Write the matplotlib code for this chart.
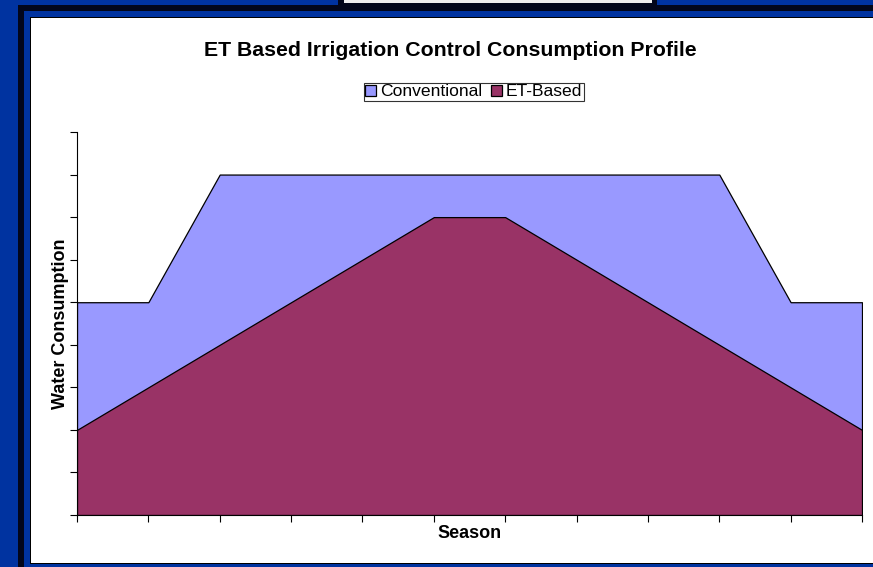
import matplotlib.pyplot as plt
from matplotlib.patches import Rectangle

# Season points (12 periods) and consumption values
periods = list(range(12))
conventional = [5, 5, 8, 8, 8, 8, 8, 8, 8, 8, 5, 5]
et_based = [2, 3, 4, 5, 6, 7, 7, 6, 5, 4, 3, 2]

W, H = 873, 567
navy = '#0033A0'


def px_rect(fig, x0, y0, x1, y1, **kw):
    # rectangle given in pixel coords (origin top-left)
    fig.patches.append(Rectangle((x0 / W, 1 - y1 / H), (x1 - x0) / W, (y1 - y0) / H,
                                 transform=fig.transFigure, figure=fig, zorder=-5, **kw))


plt.rcParams['font.family'] = ['Liberation Sans', 'DejaVu Sans']

fig = plt.figure(figsize=(W / 100, H / 100), dpi=100, facecolor=navy)

# slide frame
px_rect(fig, 18, 5, 880, 580, facecolor='#02061a', edgecolor='none')
px_rect(fig, 24, 11, 880, 580, facecolor=navy, edgecolor='none')
px_rect(fig, 30, 17, 880, 564, facecolor='black', edgecolor='none')
px_rect(fig, 31, 18, 880, 563, facecolor='white', edgecolor='none')
# box at top
px_rect(fig, 338, -5, 657, 11, facecolor='#02061a', edgecolor='none')
px_rect(fig, 344, -5, 652, 3, facecolor='#eeeeee', edgecolor='none')

ax = fig.add_axes([77 / W, 1 - 515 / H, (862 - 77) / W, (515 - 132) / H])
ax.set_facecolor('none')

ax.fill_between(periods, 0, conventional, facecolor='#9999FF', edgecolor='black',
                linewidth=0.9, label='Conventional', zorder=2)
ax.fill_between(periods, 0, et_based, facecolor='#993366', edgecolor='black',
                linewidth=0.9, label='ET-Based', zorder=3)

ax.set_xlim(0, 11)
ax.set_ylim(0, 9)
ax.set_xticks(periods)
ax.set_yticks(range(10))
ax.set_xticklabels([])
ax.set_yticklabels([])
ax.tick_params(direction='out', length=5, width=0.8, color='black')
for s in ['top', 'right']:
    ax.spines[s].set_visible(False)
for s in ['left', 'bottom']:
    ax.spines[s].set_color('black')
    ax.spines[s].set_linewidth(0.8)
    ax.spines[s].set_zorder(4)

ax.set_xlabel('Season', fontsize=13, fontweight='bold', labelpad=-1.5)
ax.set_ylabel('Water Consumption', fontsize=13, fontweight='bold', labelpad=-3)

fig.text(450 / W, 1 - 50 / H, 'ET Based Irrigation Control Consumption Profile',
         ha='center', va='center', fontsize=15.3, fontweight='bold')

leg = fig.legend(loc='center', bbox_to_anchor=(474 / W, 1 - 92 / H), ncol=2,
                 fontsize=12.6, frameon=True, fancybox=False, handlelength=0.6,
                 handleheight=0.6, handletextpad=0.25, columnspacing=0.5,
                 borderpad=0.1, borderaxespad=0)
leg.get_frame().set_edgecolor('black')
leg.get_frame().set_linewidth(0.8)

fig.savefig('out.png', dpi=100, facecolor=navy)
